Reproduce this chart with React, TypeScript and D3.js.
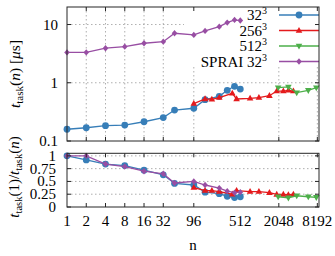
import React from 'react';
import * as d3 from 'd3';

// x positions (number of tasks n)
const nSmall = [1, 2, 4, 8, 16, 32, 48, 96, 144, 240, 320, 416, 512];
const nMid = [96, 144, 184, 240, 384, 448, 728, 1000, 1460, 1900, 2410, 2890, 3460];
const nLarge = [2000, 2890, 3900, 5920, 7900];

// top panel: t_task(n) in microseconds
const t32 = [0.159, 0.169, 0.183, 0.188, 0.214, 0.252, 0.34, 0.365, 0.513, 0.586, 0.743, 0.87, 0.78];
const t256 = [0.44, 0.527, 0.52, 0.555, 0.66, 0.527, 0.54, 0.555, 0.6, 0.72, 0.72, 0.74, 0.72];
const t512 = [0.824, 0.847, 0.676, 0.743, 0.824];
const tSprai = [3.32, 3.32, 3.92, 4.17, 4.77, 5.08, 7.08, 6.63, 7.77, 9.2, 10.8, 12.0, 11.7];

// bottom panel: t_task(1)/t_task(n)
const r32 = [1, 0.92, 0.84, 0.81, 0.72, 0.63, 0.46, 0.43, 0.29, 0.26, 0.21, 0.185, 0.2];
const r256 = [0.38, 0.32, 0.32, 0.3, 0.25, 0.32, 0.3, 0.3, 0.28, 0.245, 0.245, 0.24, 0.245];
const r512 = [0.2, 0.18, 0.22, 0.2, 0.19];
const rSprai = [1, 1, 0.84, 0.79, 0.7, 0.65, 0.47, 0.5, 0.43, 0.37, 0.31, 0.28, 0.29];

const xTickValues = [1, 2, 4, 8, 16, 32, 96, 512, 2048, 8192];
const xGridValues = [2, 4, 8, 16, 32, 96, 2048, 8192];
const yTopTicks = [0.1, 1, 10];
const yTopLabels = ['0.1', '1', '10'];
const yBotTicks = [0, 0.25, 0.5, 0.75, 1];
const yBotLabels = ['0', '0.25', '0.5', '0.75', '1'];

const FONT = '"Liberation Serif", "DejaVu Serif", serif';
const GRID = '#9a9a9a';
const FRAME = '#262626';

const series = [
  { name: '32', sup: '3', color: '#377eb8', marker: 'circle', n: nSmall, t: t32, r: r32 },
  { name: '256', sup: '3', color: '#e41a1c', marker: 'up', n: nMid, t: t256, r: r256 },
  { name: '512', sup: '3', color: '#4daf4a', marker: 'down', n: nLarge, t: t512, r: r512 },
  { name: 'SPRAI 32', sup: '3', color: '#984ea3', marker: 'diamond', n: nSmall, t: tSprai, r: rSprai },
];

const Marker = ({ kind, x, y, color }: { kind: string; x: number; y: number; color: string }) => {
  if (kind === 'circle') return <circle cx={x} cy={y} r={3.4} fill={color} />;
  if (kind === 'up')
    return <path d={`M${x},${y - 3.6}L${x + 3.3},${y + 2.2}L${x - 3.3},${y + 2.2}Z`} fill={color} />;
  if (kind === 'down')
    return <path d={`M${x},${y + 3.6}L${x + 3.3},${y - 2.2}L${x - 3.3},${y - 2.2}Z`} fill={color} />;
  return <path d={`M${x},${y - 3.2}L${x + 2.8},${y}L${x},${y + 3.2}L${x - 2.8},${y}Z`} fill={color} />;
};

export default function App() {
  const left = 67;
  const right = 319;
  const top1 = 7;
  const bot1 = 141;
  const top2 = 153.3;
  const bot2 = 207;

  const x = d3.scaleLog().base(2).domain([1, 8700]).range([left, right]);
  const yTop = d3.scaleLog().domain([0.1, 20]).range([bot1, top1]);
  const yBot = d3.scaleLinear().domain([0, 1.05]).range([bot2, top2]);

  const lineTop = (s: typeof series[0]) =>
    d3.line<number>().x((_, i) => x(s.n[i])).y((d) => yTop(d))(s.t) || '';
  const lineBot = (s: typeof series[0]) =>
    d3.line<number>().x((_, i) => x(s.n[i])).y((d) => yBot(d))(s.r) || '';

  const tick = 4;
  const legendY = [15, 30.5, 46, 61.5];

  return (
    <svg
      width={335}
      height={256}
      style={{ position: 'fixed', left: 0, top: 0, background: '#fff' }}
      fontFamily={FONT}
    >
      {/* ---- top panel ---- */}
      <g stroke={GRID} strokeWidth={0.8} strokeDasharray="1.5,2.5">
        {xGridValues.map((v) => (
          <line key={v} x1={x(v)} x2={x(v)} y1={top1} y2={bot1} />
        ))}
        {[1, 10].map((v) => (
          <line key={v} x1={left} x2={right} y1={yTop(v)} y2={yTop(v)} />
        ))}
      </g>
      {/* opaque key box */}
      <rect x={184} y={top1 + 0.5} width={right - 184} height={59} fill="#fff" />

      {series.map((s) => (
        <g key={s.name}>
          <path d={lineTop(s)} fill="none" stroke={s.color} strokeWidth={1.3} />
          {s.t.map((v, i) => (
            <Marker key={i} kind={s.marker} x={x(s.n[i])} y={yTop(v)} color={s.color} />
          ))}
        </g>
      ))}

      {/* key */}
      {series.map((s, i) => (
        <g key={s.name}>
          <text x={267} y={legendY[i] + 5} textAnchor="end" fontSize={15} fill="#000">
            {s.name}
            <tspan fontSize={10} dy={-6}>
              {s.sup}
            </tspan>
          </text>
          <line x1={279} x2={right} y1={legendY[i]} y2={legendY[i]} stroke={s.color} strokeWidth={1.3} />
          <Marker kind={s.marker} x={299} y={legendY[i]} color={s.color} />
        </g>
      ))}

      <g stroke={FRAME} strokeWidth={1}>
        {xGridValues.map((v) => (
          <g key={v}>
            <line x1={x(v)} x2={x(v)} y1={bot1} y2={bot1 - tick} />
            <line x1={x(v)} x2={x(v)} y1={top1} y2={top1 + tick} />
          </g>
        ))}
        {yTopTicks.map((v) => (
          <g key={v}>
            <line x1={left} x2={left + tick} y1={yTop(v)} y2={yTop(v)} />
            <line x1={right} x2={right - tick} y1={yTop(v)} y2={yTop(v)} />
          </g>
        ))}
        <rect x={left} y={top1} width={right - left} height={bot1 - top1} fill="none" />
      </g>
      {yTopTicks.map((v, i) => (
        <text key={v} x={58} y={yTop(v) + 5} textAnchor="end" fontSize={15}>
          {yTopLabels[i]}
        </text>
      ))}
      <text transform="translate(20,74) rotate(-90)" textAnchor="middle" fontSize={15.5}>
        <tspan fontStyle="italic">t</tspan>
        <tspan fontSize={11} dy={3}>task</tspan>
        <tspan dy={-3}>(</tspan>
        <tspan fontStyle="italic">n</tspan>
        <tspan>) [</tspan>
        <tspan fontStyle="italic">μ</tspan>
        <tspan>s]</tspan>
      </text>

      {/* ---- bottom panel ---- */}
      <g stroke={GRID} strokeWidth={0.8} strokeDasharray="1.5,2.5">
        {yBotTicks.slice(1).map((v) => (
          <line key={v} x1={left} x2={right} y1={yBot(v)} y2={yBot(v)} />
        ))}
      </g>
      {series.map((s) => (
        <g key={s.name}>
          <path d={lineBot(s)} fill="none" stroke={s.color} strokeWidth={1.3} />
          {s.r.map((v, i) => (
            <Marker key={i} kind={s.marker} x={x(s.n[i])} y={yBot(v)} color={s.color} />
          ))}
        </g>
      ))}
      <g stroke={FRAME} strokeWidth={1}>
        {xGridValues.map((v) => (
          <g key={v}>
            <line x1={x(v)} x2={x(v)} y1={bot2} y2={bot2 - tick} />
            <line x1={x(v)} x2={x(v)} y1={top2} y2={top2 + tick} />
          </g>
        ))}
        {yBotTicks.map((v) => (
          <g key={v}>
            <line x1={left} x2={left + tick} y1={yBot(v)} y2={yBot(v)} />
            <line x1={right} x2={right - tick} y1={yBot(v)} y2={yBot(v)} />
          </g>
        ))}
        <rect x={left} y={top2} width={right - left} height={bot2 - top2} fill="none" />
      </g>
      {yBotTicks.map((v, i) => (
        <text key={v} x={56} y={yBot(v) + 5} textAnchor="end" fontSize={15}>
          {yBotLabels[i]}
        </text>
      ))}
      {xTickValues.map((v) => (
        <text key={v} x={x(v)} y={226} textAnchor="middle" fontSize={15}>
          {v}
        </text>
      ))}
      <text x={(left + right) / 2} y={250} textAnchor="middle" fontSize={15}>
        n
      </text>
      <text transform="translate(19,177) rotate(-90)" textAnchor="middle" fontSize={15}>
        <tspan fontStyle="italic">t</tspan>
        <tspan fontSize={10.5} dy={3}>task</tspan>
        <tspan dy={-3}>(1)/</tspan>
        <tspan fontStyle="italic">t</tspan>
        <tspan fontSize={10.5} dy={3}>task</tspan>
        <tspan dy={-3}>(</tspan>
        <tspan fontStyle="italic">n</tspan>
        <tspan>)</tspan>
      </text>
    </svg>
  );
}
